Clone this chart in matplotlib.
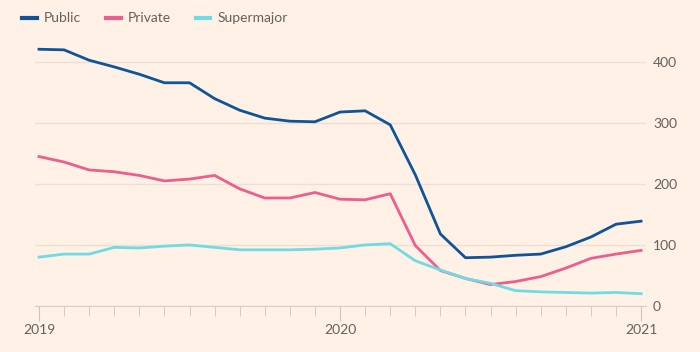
import matplotlib.pyplot as plt
import numpy as np
import pandas as pd

# monthly values, Jan 2019 - Jan 2021
months = pd.date_range("2019-01-01", "2021-01-01", freq="MS")
public = [421, 420, 403, 392, 380, 366, 366, 340, 321, 308, 303, 302,
          318, 320, 297, 215, 118, 79, 80, 83, 85, 97, 113, 134, 139]
private = [245, 236, 223, 220, 214, 205, 208, 214, 192, 177, 177, 186,
           175, 174, 184, 99, 58, 45, 35, 40, 48, 62, 78, 85, 91]
supermajor = [80, 85, 85, 96, 95, 98, 100, 96, 92, 92, 92, 93,
              95, 100, 102, 74, 59, 45, 37, 25, 23, 22, 21, 22, 20]

series_names = ["Public", "Private", "Supermajor"]
colors = ["#0f5499", "#eb5e8d", "#6fdbe3"]
yticks = [0, 100, 200, 300, 400]
year_labels = ["2019", "2020", "2021"]

bg = "#fff1e5"
txt = "#66605c"

plt.rcParams['font.family'] = ['Lato', 'DejaVu Sans']

fig = plt.figure(figsize=(7, 3.52), dpi=100, facecolor=bg)
ax = fig.add_axes([0.05, 0.131, 0.873, 0.762], facecolor=bg)

x = np.arange(len(months))
for vals, name, c in zip([public, private, supermajor], series_names, colors):
    ax.plot(x, vals, color=c, lw=2.0, label=name, solid_joinstyle='round')

ax.set_ylim(0, 440)
ax.set_xlim(-0.16, 24.2)

ax.yaxis.tick_right()
ax.set_yticks(yticks)
ax.set_yticklabels([str(v) for v in yticks])
ax.tick_params(axis='y', length=0, pad=5, labelsize=10, labelcolor=txt)
ax.grid(axis='y', color='#ebe0d6', lw=1)
ax.set_axisbelow(True)

ax.set_xticks([0, 12, 24])
ax.set_xticklabels(year_labels)
ax.set_xticks(x, minor=True)
ax.tick_params(axis='x', which='major', length=11, color='#cfc4ba', labelsize=10, labelcolor=txt, pad=2)
ax.tick_params(axis='x', which='minor', length=7, color='#cfc4ba')

for s in ['top', 'left', 'right']:
    ax.spines[s].set_visible(False)
ax.spines['bottom'].set_color('#d9cec4')

fig.legend(loc='upper left', bbox_to_anchor=(0.014, 1.0), ncol=3, frameon=False,
           handlelength=1.05, columnspacing=1.8, handletextpad=0.5, fontsize=10,
           labelcolor=txt)
leg = fig.legends[0]
for h in leg.legend_handles:
    h.set_linewidth(3)

fig.savefig("out.png", dpi=100, facecolor=bg)
